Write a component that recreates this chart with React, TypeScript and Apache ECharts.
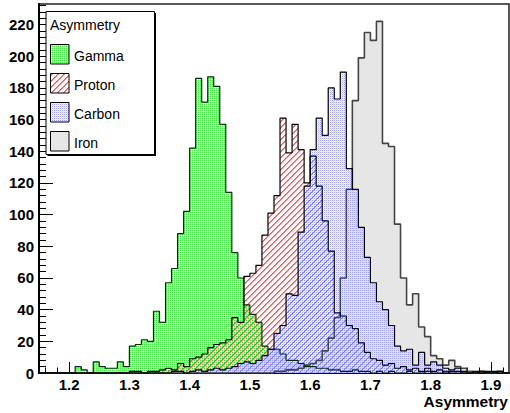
import React, { useEffect, useRef } from "react";
import * as echarts from "echarts";

// Histogram binning: 78 bins of width 0.01 from 1.15 to 1.93
const BIN_START = 1.15;
const BIN_WIDTH = 0.01;

const xTickLabels = [1.2, 1.3, 1.4, 1.5, 1.6, 1.7, 1.8, 1.9];
const yTickLabels = [0, 20, 40, 60, 80, 100, 120, 140, 160, 180, 200, 220];

const gamma = [
  0, 0, 0, 0, 0, 0, 4, 2, 0, 7,
  4, 3, 3, 7, 4, 17, 18, 21, 20, 39,
  32, 57, 66, 88, 102, 142, 186, 171, 187, 181,
  157, 114, 76, 60, 43, 37, 32, 17, 15, 15,
  12, 8, 8, 6, 4, 4, 3, 3, 2, 2,
  1, 1, 2, 1, 1, 0, 1, 0, 1, 0,
  0, 1, 0, 0, 1, 0, 0, 1, 0, 0,
  0, 0, 0, 0, 0, 0, 0, 0,
];

const proton = [
  0, 0, 0, 0, 0, 0, 0, 0, 0, 0,
  0, 0, 0, 0, 0, 1, 1, 0, 1, 1,
  2, 3, 2, 6, 4, 9, 10, 12, 16, 18,
  19, 21, 35, 32, 61, 63, 68, 87, 101, 112,
  161, 139, 157, 141, 120, 137, 118, 96, 77, 38,
  36, 30, 28, 19, 13, 9, 8, 5, 6, 3,
  4, 2, 3, 1, 3, 1, 2, 0, 1, 1,
  0, 0, 0, 1, 0, 0, 1, 0,
];

const carbon = [
  0, 0, 0, 0, 0, 0, 0, 0, 0, 0,
  0, 0, 0, 0, 0, 0, 0, 0, 0, 0,
  0, 0, 1, 1, 0, 1, 2, 1, 2, 3,
  2, 3, 4, 6, 7, 6, 8, 11, 15, 25,
  30, 50, 49, 89, 118, 141, 161, 150, 180, 173,
  190, 129, 116, 92, 73, 57, 45, 40, 30, 17,
  14, 15, 5, 13, 5, 7, 5, 3, 2, 3,
  1, 0, 1, 0, 1, 1, 0, 0,
];

const iron = [
  0, 0, 0, 0, 0, 0, 0, 0, 0, 0,
  0, 0, 0, 0, 0, 0, 0, 0, 0, 0,
  0, 0, 0, 0, 0, 0, 0, 0, 0, 0,
  0, 0, 0, 0, 0, 0, 0, 0, 0, 1,
  1, 2, 2, 3, 5, 6, 8, 14, 22, 35,
  60, 116, 172, 199, 215, 210, 222, 145, 143, 94,
  60, 43, 50, 29, 23, 11, 9, 5, 8, 4,
  3, 1, 0, 1, 0, 0, 1, 0,
];

const legendNames = ["Gamma", "Proton", "Carbon", "Iron"];

function stepData(counts: number[]) {
  const pts: number[][] = counts.map((c, i) => [
    Math.round((BIN_START + i * BIN_WIDTH) * 1000) / 1000,
    c,
  ]);
  pts.push([
    Math.round((BIN_START + counts.length * BIN_WIDTH) * 1000) / 1000,
    counts[counts.length - 1],
  ]);
  return pts;
}

function px(x: number, y: number, fill: string) {
  return `<rect x="${x}" y="${y}" width="1" height="1" fill="${fill}"/>`;
}

function svgTile(size: number, body: string) {
  const svg =
    `<svg xmlns="http://www.w3.org/2000/svg" width="${size}" height="${size}" shape-rendering="crispEdges">` +
    body +
    `</svg>`;
  return {
    image: "data:image/svg+xml;charset=utf-8," + encodeURIComponent(svg),
    repeat: "repeat",
    imageWidth: size,
    imageHeight: size,
  } as any;
}

export default function App() {
  const ref = useRef<HTMLDivElement>(null);

  useEffect(() => {
    if (!ref.current) return;
    const chart = echarts.init(ref.current, undefined, { renderer: "svg" });

    // dense light-green stipple
    const greenPat = svgTile(
      2,
      px(0, 0, "#46dc46") + px(1, 0, "#a8f5a8") + px(0, 1, "#a8f5a8") + px(1, 1, "#dcfcdc")
    );
    // red "/" hatch with white gaps
    let redBody = "";
    for (let i = 0; i < 6; i++) {
      redBody += px(i, 5 - i, "#ff5050");
      redBody += px((i + 1) % 6, 5 - i, "#ff8c8c");
    }
    const redPat = svgTile(6, redBody);
    // pale blue dots
    const bluePat = svgTile(2, px(0, 0, "#a0a0ff") + px(1, 1, "#dcdcff"));
    const ironFill = "#e6e6e6";

    const xMinor: number[] = [];
    for (let k = 58; k <= 96; k++) xMinor.push(Math.round(k * 2) / 100);
    const yMinor: number[] = [];
    for (let v = 0; v <= 232; v += 4) yMinor.push(v);

    const font = "Liberation Sans, Arial, Helvetica, sans-serif";
    const xMin = 1.15;
    const xMax = 1.93;
    const yMax = 233;

    const mkSeries = (name: string, counts: number[], fill: any, lc: string, lw: number) => ({
      name,
      type: "line",
      step: "end",
      symbol: "none",
      data: stepData(counts),
      lineStyle: { color: lc, width: lw },
      areaStyle: { color: fill, opacity: 1 },
      xAxisIndex: 0,
      yAxisIndex: 0,
      silent: true,
    });

    const legendY = [54.5, 83.5, 112.5, 141.5];
    const legendFills = [greenPat, redPat, bluePat, ironFill];
    const legendGraphics: any[] = [
      { type: "rect", shape: { x: 47.5, y: 13, width: 108.5, height: 143 }, style: { fill: "#000" }, z: 100 },
      { type: "rect", shape: { x: 46, y: 11.5, width: 108.5, height: 143 }, style: { fill: "#fff", stroke: "#000", lineWidth: 1 }, z: 101 },
      {
        type: "text", x: 50, y: 25, z: 102,
        style: { text: "Asymmetry", fontSize: 14, fontFamily: font, fill: "#000", textVerticalAlign: "middle", verticalAlign: "middle" },
      },
    ];
    legendNames.forEach((n, i) => {
      legendGraphics.push({
        type: "rect", z: 102,
        shape: { x: 50.5, y: legendY[i] - 10, width: 18.5, height: 19.5 },
        style: { fill: legendFills[i], stroke: "#000", lineWidth: 1 },
      });
      legendGraphics.push({
        type: "text", x: 74, y: legendY[i] + 1, z: 102,
        style: { text: n, fontSize: 14, fontFamily: font, fill: "#000", verticalAlign: "middle", textVerticalAlign: "middle" },
      });
    });

    chart.setOption({
      animation: false,
      backgroundColor: "#fff",
      grid: {
        left: 39, top: 4, width: 470, height: 369,
        show: true, borderColor: "#222", borderWidth: 1.5, backgroundColor: "transparent",
      },
      xAxis: [
        {
          type: "value", min: xMin, max: xMax, position: "bottom",
          axisLine: { show: true, onZero: false, lineStyle: { color: "#000", width: 2 } },
          axisTick: { show: true, inside: true, length: 11, customValues: xTickLabels, lineStyle: { color: "#000", width: 1 } },
          axisLabel: {
            show: true, customValues: xTickLabels, formatter: (v: number) => v.toFixed(1),
            fontWeight: "bold", fontSize: 15, fontFamily: font, color: "#000", margin: 4,
          },
          splitLine: { show: false },
        },
        {
          type: "value", min: xMin, max: xMax, position: "bottom",
          axisLine: { show: false },
          axisTick: { show: true, inside: true, length: 5.5, customValues: xMinor, lineStyle: { color: "#000", width: 1 } },
          axisLabel: { show: false },
          splitLine: { show: false },
        },
      ],
      yAxis: [
        {
          type: "value", min: 0, max: yMax, position: "left",
          axisLine: { show: true, onZero: false, lineStyle: { color: "#000", width: 2 } },
          axisTick: { show: true, inside: true, length: 14, customValues: yTickLabels, lineStyle: { color: "#000", width: 1 } },
          axisLabel: {
            show: true, customValues: yTickLabels,
            fontWeight: "bold", fontSize: 15, fontFamily: font, color: "#000", margin: 5,
          },
          splitLine: { show: false },
        },
        {
          type: "value", min: 0, max: yMax, position: "left",
          axisLine: { show: false },
          axisTick: { show: true, inside: true, length: 7, customValues: yMinor, lineStyle: { color: "#000", width: 1 } },
          axisLabel: { show: false },
          splitLine: { show: false },
        },
      ],
      series: [
        mkSeries("Iron", iron, ironFill, "#444", 1.6),
        mkSeries("Gamma", gamma, greenPat, "#0a2a0a", 1.2),
        mkSeries("Proton", proton, redPat, "#000", 1.2),
        mkSeries("Carbon", carbon, bluePat, "#000", 1.2),
      ],
      graphic: [
        ...legendGraphics,
        {
          type: "text", x: 508, y: 401.5, z: 102,
          style: {
            text: "Asymmetry", fontSize: 15.5, fontWeight: "bold", fontFamily: font, fill: "#000",
            align: "right", textAlign: "right", verticalAlign: "middle", textVerticalAlign: "middle",
          },
        },
      ],
    });

    return () => chart.dispose();
  }, []);

  return (
    <div
      ref={ref}
      style={{ position: "fixed", left: 0, top: 0, width: 510, height: 413, background: "#fff" }}
    />
  );
}
